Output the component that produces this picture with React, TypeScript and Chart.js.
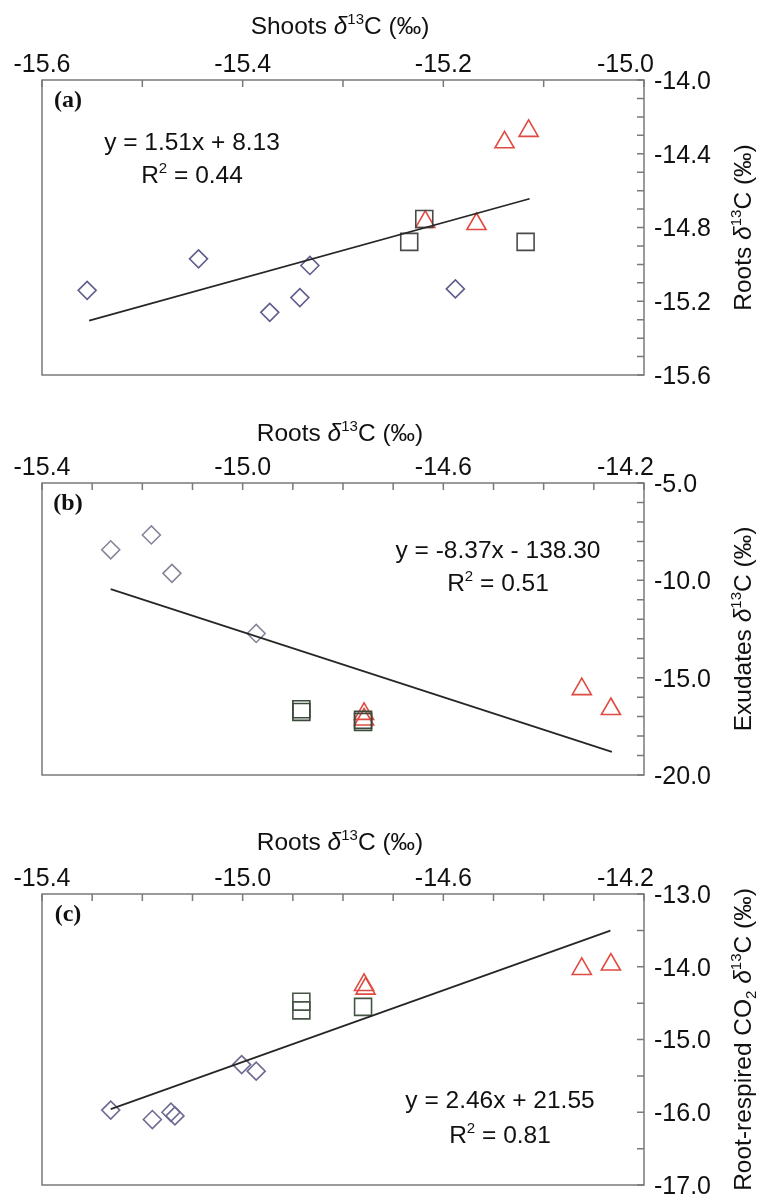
import React, { useEffect, useRef } from 'react';
import { Chart, registerables } from 'chart.js';

Chart.register(...registerables);

// ---------- Panel (a): Shoots vs Roots ----------
const aDiamondX = [-15.555, -15.444, -15.373, -15.343, -15.333, -15.188];
const aDiamondY = [-15.141, -14.97, -15.26, -15.18, -15.006, -15.133];
const aSquareX = [-15.234, -15.219, -15.118];
const aSquareY = [-14.878, -14.754, -14.878];
const aTriangleX = [-15.218, -15.167, -15.139, -15.115];
const aTriangleY = [-14.77, -14.781, -14.338, -14.276];
const aFitX = [-15.553, -15.114];
const aFitY = [-15.305, -14.644];
const aXMajor = [-15.6, -15.4, -15.2, -15.0];
const aYMajor = [-14.0, -14.4, -14.8, -15.2, -15.6];
const aEquation = 'y = 1.51x + 8.13';
const aR2 = ' = 0.44';

// ---------- Panel (b): Roots vs Exudates ----------
const bDiamondX = [-15.263, -15.182, -15.141, -14.973];
const bDiamondY = [-8.43, -7.67, -9.64, -12.73];
const bSquareX = [-14.883, -14.883, -14.76, -14.76];
const bSquareY = [-16.62, -16.76, -17.16, -17.27];
const bTriangleX = [-14.758, -14.758, -14.324, -14.266];
const bTriangleY = [-16.86, -17.15, -15.59, -16.61];
const bFitX = [-15.263, -14.264];
const bFitY = [-10.45, -18.81];
const bXMajor = [-15.4, -15.0, -14.6, -14.2];
const bYMajor = [-5.0, -10.0, -15.0, -20.0];
const bEquation = 'y = -8.37x - 138.30';
const bR2 = ' = 0.51';

// ---------- Panel (c): Roots vs Root-respired CO2 ----------
const cDiamondX = [-15.263, -15.18, -15.143, -15.135, -15.002, -14.973];
const cDiamondY = [-15.97, -16.1, -16.0, -16.05, -15.345, -15.435];
const cSquareX = [-14.883, -14.883, -14.76];
const cSquareY = [-14.48, -14.6, -14.552];
const cTriangleX = [-14.758, -14.755, -14.324, -14.266];
const cTriangleY = [-14.25, -14.3, -14.03, -13.97];
const cFitX = [-15.263, -14.267];
const cFitY = [-15.957, -13.504];
const cXMajor = [-15.4, -15.0, -14.6, -14.2];
const cYMajor = [-13.0, -14.0, -15.0, -16.0, -17.0];
const cEquation = 'y = 2.46x + 21.55';
const cR2 = ' = 0.81';

const SANS = '"Liberation Sans", Arial, Helvetica, sans-serif';
const SERIF = '"Liberation Serif", "Times New Roman", Times, serif';
const TEXT = '#111111';
const AXIS = '#7a7a7a';
const RED = '#e04a40';
const TICK_SIZE = 25;
const TITLE_SIZE = 24.5;
const EQ_SIZE = 24.5;

type Seg = { t: string; sup?: boolean; sub?: boolean; it?: boolean };

function segFont(s: Seg, size: number) {
  const sz = s.sup || s.sub ? Math.round(size * 0.62) : size;
  return `${s.it ? 'italic ' : ''}${sz}px ${SANS}`;
}

function drawRich(ctx: CanvasRenderingContext2D, segs: Seg[], x: number, y: number, size: number, rot = 0) {
  ctx.save();
  ctx.translate(x, y);
  if (rot) ctx.rotate(rot);
  const widths = segs.map((s) => {
    ctx.font = segFont(s, size);
    return ctx.measureText(s.t).width;
  });
  const total = widths.reduce((a, b) => a + b, 0);
  let cx = -total / 2;
  ctx.textAlign = 'left';
  ctx.textBaseline = 'alphabetic';
  ctx.fillStyle = TEXT;
  segs.forEach((s, i) => {
    ctx.font = segFont(s, size);
    const dy = s.sup ? -size * 0.42 : s.sub ? size * 0.22 : 0;
    ctx.fillText(s.t, cx, dy);
    cx += widths[i];
  });
  ctx.restore();
}

function buildTicks(min: number, max: number, step: number) {
  const out: number[] = [];
  const n = Math.round((max - min) / step);
  for (let i = 0; i <= n; i++) out.push(+(min + i * step).toFixed(4));
  return out;
}
const isMajor = (v: number, majors: number[]) => majors.some((m) => Math.abs(m - v) < 1e-6);
const pts = (xs: number[], ys: number[]) => xs.map((x, i) => ({ x, y: ys[i] }));

type PanelCfg = {
  top: number;
  height: number;
  areaTop: number;
  areaBottom: number;
  xMin: number; xMax: number; xStep: number; xMajor: number[];
  yMin: number; yMax: number; yStep: number; yMajor: number[];
  dX: number[]; dY: number[]; sX: number[]; sY: number[]; tX: number[]; tY: number[];
  fX: number[]; fY: number[];
  diamondColor: string; squareColor: string;
  xTitle: Seg[]; yTitle: Seg[]; tag: string;
  eq: string; r2: string; eqX: number; eqBase: number; r2Base: number;
  xTitleBase: number; tagBase: number;
};

const LEFT = 42;
const RIGHT = 644;
const W = 762;

const panels: PanelCfg[] = [
  {
    top: 0, height: 400, areaTop: 80, areaBottom: 377,
    xMin: -15.6, xMax: -15.0, xStep: 0.1, xMajor: aXMajor,
    yMin: -15.6, yMax: -14.0, yStep: 0.1, yMajor: aYMajor,
    dX: aDiamondX, dY: aDiamondY, sX: aSquareX, sY: aSquareY, tX: aTriangleX, tY: aTriangleY,
    fX: aFitX, fY: aFitY,
    diamondColor: '#5f5d8c', squareColor: '#4a4a4a',
    xTitle: [{ t: 'Shoots ' }, { t: 'δ', it: true }, { t: '13', sup: true }, { t: 'C (‰)' }],
    yTitle: [{ t: 'Roots ' }, { t: 'δ', it: true }, { t: '13', sup: true }, { t: 'C (‰)' }],
    tag: '(a)', eq: aEquation, r2: aR2, eqX: 192, eqBase: 150, r2Base: 183, xTitleBase: 34, tagBase: 107,
  },
  {
    top: 400, height: 400, areaTop: 83, areaBottom: 382,
    xMin: -15.4, xMax: -14.2, xStep: 0.1, xMajor: bXMajor,
    yMin: -20, yMax: -5, yStep: 1, yMajor: bYMajor,
    dX: bDiamondX, dY: bDiamondY, sX: bSquareX, sY: bSquareY, tX: bTriangleX, tY: bTriangleY,
    fX: bFitX, fY: bFitY,
    diamondColor: '#85859a', squareColor: '#3b4a3b',
    xTitle: [{ t: 'Roots ' }, { t: 'δ', it: true }, { t: '13', sup: true }, { t: 'C (‰)' }],
    yTitle: [{ t: 'Exudates ' }, { t: 'δ', it: true }, { t: '13', sup: true }, { t: 'C (‰)' }],
    tag: '(b)', eq: bEquation, r2: bR2, eqX: 498, eqBase: 158, r2Base: 191, xTitleBase: 41, tagBase: 110,
  },
  {
    top: 800, height: 410, areaTop: 94, areaBottom: 393,
    xMin: -15.4, xMax: -14.2, xStep: 0.1, xMajor: cXMajor,
    yMin: -17, yMax: -13, yStep: 0.5, yMajor: cYMajor,
    dX: cDiamondX, dY: cDiamondY, sX: cSquareX, sY: cSquareY, tX: cTriangleX, tY: cTriangleY,
    fX: cFitX, fY: cFitY,
    diamondColor: '#6c6a90', squareColor: '#465446',
    xTitle: [{ t: 'Roots ' }, { t: 'δ', it: true }, { t: '13', sup: true }, { t: 'C (‰)' }],
    yTitle: [
      { t: 'Root-respired CO' }, { t: '2', sub: true }, { t: ' ' }, { t: 'δ', it: true }, { t: '13', sup: true }, { t: 'C (‰)' },
    ],
    tag: '(c)', eq: cEquation, r2: cR2, eqX: 500, eqBase: 308, r2Base: 343, xTitleBase: 50, tagBase: 121,
  },
];

function Panel({ cfg }: { cfg: PanelCfg }) {
  const ref = useRef<HTMLCanvasElement | null>(null);
  useEffect(() => {
    const canvas = ref.current;
    if (!canvas) return;
    const xTicks = buildTicks(cfg.xMin, cfg.xMax, cfg.xStep);
    const yTicks = buildTicks(cfg.yMin, cfg.yMax, cfg.yStep);

    const decor = {
      id: 'decor',
      afterDatasetsDraw(chart: any) {
        const ctx: CanvasRenderingContext2D = chart.ctx;
        const { left, right, top, bottom } = chart.chartArea;
        const xs = chart.scales.x;
        const ys = chart.scales.y;
        ctx.save();
        ctx.strokeStyle = AXIS;
        ctx.lineWidth = 1.5;
        ctx.strokeRect(left, top, right - left, bottom - top);
        ctx.beginPath();
        xs.ticks.forEach((t: any) => {
          const px = xs.getPixelForValue(t.value);
          ctx.moveTo(px, top);
          ctx.lineTo(px, top + 7);
        });
        ys.ticks.forEach((t: any) => {
          const py = ys.getPixelForValue(t.value);
          ctx.moveTo(right, py);
          ctx.lineTo(right - 7, py);
        });
        ctx.stroke();

        // top tick labels
        ctx.fillStyle = TEXT;
        ctx.font = `${TICK_SIZE}px ${SANS}`;
        ctx.textBaseline = 'alphabetic';
        const last = cfg.xMajor[cfg.xMajor.length - 1];
        cfg.xMajor.forEach((v) => {
          const px = xs.getPixelForValue(v);
          const label = v.toFixed(1);
          if (Math.abs(v - last) < 1e-6) {
            ctx.textAlign = 'right';
            ctx.fillText(label, px + 10, top - 8);
          } else {
            ctx.textAlign = 'center';
            ctx.fillText(label, px, top - 8);
          }
        });

        // axis titles
        drawRich(ctx, cfg.xTitle, 340, cfg.xTitleBase, TITLE_SIZE);
        drawRich(ctx, cfg.yTitle, 751, (top + bottom) / 2, TITLE_SIZE, -Math.PI / 2);

        // panel tag
        ctx.font = `bold 24px ${SERIF}`;
        ctx.textAlign = 'center';
        ctx.fillStyle = TEXT;
        ctx.fillText(cfg.tag, 68, cfg.tagBase);

        // regression text
        drawRich(ctx, [{ t: cfg.eq }], cfg.eqX, cfg.eqBase, EQ_SIZE);
        drawRich(ctx, [{ t: 'R' }, { t: '2', sup: true }, { t: cfg.r2 }], cfg.eqX, cfg.r2Base, EQ_SIZE);
        ctx.restore();
      },
    };

    const chart = new Chart(canvas, {
      type: 'scatter',
      data: {
        datasets: [
          {
            data: pts(cfg.fX, cfg.fY),
            showLine: true,
            borderColor: '#262626',
            borderWidth: 1.7,
            pointRadius: 0,
            fill: false,
          } as any,
          {
            data: pts(cfg.dX, cfg.dY),
            pointStyle: 'rectRot',
            pointRadius: 9,
            pointBorderColor: cfg.diamondColor,
            pointBackgroundColor: 'rgba(0,0,0,0)',
            pointBorderWidth: 1.6,
          },
          {
            data: pts(cfg.sX, cfg.sY),
            pointStyle: 'rect',
            pointRadius: 12,
            pointBorderColor: cfg.squareColor,
            pointBackgroundColor: 'rgba(0,0,0,0)',
            pointBorderWidth: 1.6,
          },
          {
            data: pts(cfg.tX, cfg.tY),
            pointStyle: 'triangle',
            pointRadius: 11,
            pointBorderColor: RED,
            pointBackgroundColor: 'rgba(0,0,0,0)',
            pointBorderWidth: 1.6,
          },
        ],
      },
      options: {
        responsive: false,
        animation: false,
        events: [],
        layout: { padding: { left: LEFT, right: 0, top: 0, bottom: cfg.height - cfg.areaBottom } },
        plugins: { legend: { display: false }, tooltip: { enabled: false } },
        scales: {
          x: {
            type: 'linear',
            position: 'top',
            min: cfg.xMin,
            max: cfg.xMax,
            grid: { display: false, drawTicks: false },
            border: { display: false },
            ticks: { display: false },
            afterBuildTicks: (s: any) => {
              s.ticks = xTicks.map((v) => ({ value: v }));
            },
            afterFit: (s: any) => {
              s.height = cfg.areaTop;
            },
          },
          y: {
            type: 'linear',
            position: 'right',
            min: cfg.yMin,
            max: cfg.yMax,
            grid: { display: false, drawTicks: false },
            border: { display: false },
            ticks: {
              autoSkip: false,
              padding: 10,
              labelOffset: 2,
              color: TEXT,
              font: { family: SANS, size: TICK_SIZE },
              callback: (v: any) => (isMajor(Number(v), cfg.yMajor) ? Number(v).toFixed(1) : ''),
            },
            afterBuildTicks: (s: any) => {
              s.ticks = yTicks.map((v) => ({ value: v }));
            },
            afterFit: (s: any) => {
              s.width = W - RIGHT;
            },
          },
        },
      } as any,
      plugins: [decor],
    });
    return () => chart.destroy();
  }, [cfg]);

  return (
    <canvas
      ref={ref}
      width={W}
      height={cfg.height}
      style={{ position: 'absolute', left: 0, top: cfg.top, width: W, height: cfg.height, display: 'block' }}
    />
  );
}

export default function App() {
  return (
    <div
      style={{
        position: 'absolute',
        left: 0,
        top: 0,
        width: W,
        height: 1201,
        overflow: 'hidden',
        background: '#ffffff',
      }}
    >
      {panels.map((p) => (
        <Panel key={p.tag} cfg={p} />
      ))}
    </div>
  );
}
